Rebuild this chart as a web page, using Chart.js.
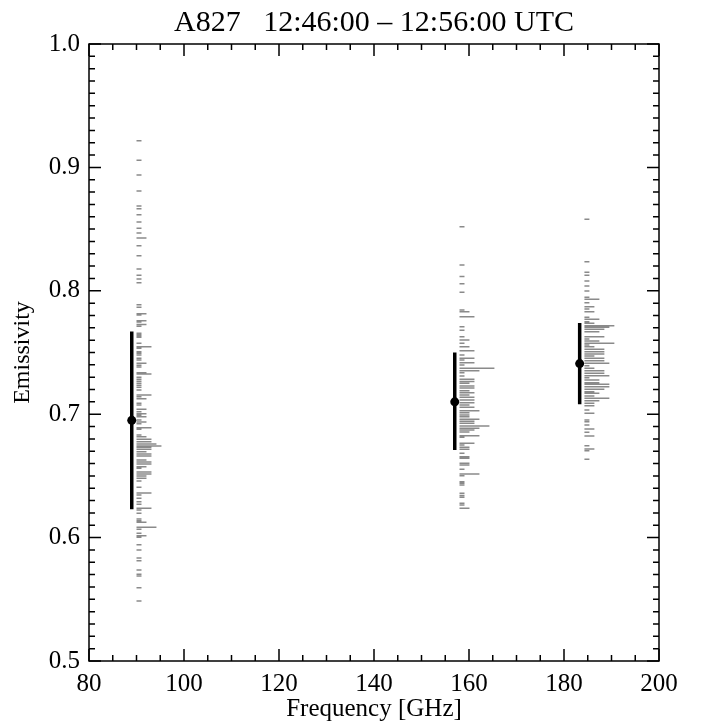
<!DOCTYPE html>
<html>
<head>
<meta charset="utf-8">
<script src="https://cdn.jsdelivr.net/npm/chart.js@4/dist/chart.umd.min.js"></script>
<style>
  body { margin: 0; background: #fff; }
  #wrap { width: 702px; height: 724px; }
</style>
</head>
<body>
<div id="wrap"><canvas id="emis" width="702" height="724"></canvas></div>
<script>
// channel frequencies [GHz], mean emissivity and error bar ends
const freqs = [89, 157, 183.3];
const means = [0.695, 0.710, 0.741];
const errLow = [0.623, 0.671, 0.708];
const errHigh = [0.767, 0.750, 0.774];

// histogram bins (emissivity) and counts for each channel
const bins89 = [0.9216, 0.9058, 0.8938, 0.8809, 0.8687, 0.8665, 0.8617, 0.8558, 0.8506, 0.8468,
  0.8428, 0.8365, 0.8284, 0.8177, 0.8126, 0.8096, 0.8066, 0.7887, 0.7866, 0.7815,
  0.7804, 0.7758, 0.7747, 0.7726, 0.7712, 0.7656, 0.7645, 0.7634, 0.7623, 0.7574,
  0.7547, 0.7534, 0.7506, 0.7493, 0.7480, 0.7453, 0.7439, 0.7412, 0.7396, 0.7382,
  0.7336, 0.7326, 0.7299, 0.7283, 0.7267, 0.7250, 0.7234, 0.7218, 0.7196, 0.7156,
  0.7142, 0.7126, 0.7088, 0.7075, 0.7040, 0.7020, 0.7004, 0.6991, 0.6980, 0.6953,
  0.6937, 0.6923, 0.6891, 0.6878, 0.6831, 0.6818, 0.6797, 0.6777, 0.6758, 0.6742,
  0.6732, 0.6716, 0.6696, 0.6677, 0.6661, 0.6629, 0.6613, 0.6596, 0.6575, 0.6562,
  0.6532, 0.6515, 0.6499, 0.6480, 0.6459, 0.6408, 0.6361, 0.6345, 0.6318, 0.6291,
  0.6270, 0.6237, 0.6224, 0.6197, 0.6151, 0.6137, 0.6124, 0.6083, 0.6067, 0.6035,
  0.6015, 0.6003, 0.5942, 0.5900, 0.5835, 0.5813, 0.5737, 0.5702, 0.5689, 0.5594,
  0.5486];
const counts89 = [1, 1, 1, 1, 1, 1, 1, 1, 1, 1,
  2, 1, 1, 1, 1, 1, 1, 1, 1, 2,
  1, 2, 1, 2, 1, 1, 1, 1, 1, 1,
  3, 1, 1, 1, 1, 1, 1, 2, 1, 1,
  2, 3, 1, 1, 1, 1, 1, 1, 1, 3,
  1, 2, 1, 1, 2, 1, 2, 1, 2, 1,
  2, 1, 3, 1, 1, 2, 3, 3, 4, 5,
  3, 3, 2, 3, 3, 2, 3, 3, 2, 1,
  3, 3, 2, 2, 1, 1, 3, 1, 1, 1,
  1, 3, 1, 1, 1, 1, 2, 4, 1, 1,
  2, 1, 1, 1, 1, 1, 1, 1, 1, 1,
  1];

const bins157 = [0.8520, 0.8209, 0.8115, 0.8058, 0.7988, 0.7844, 0.7831, 0.7790, 0.7709, 0.7680,
  0.7628, 0.7601, 0.7574, 0.7547, 0.7515, 0.7480, 0.7453, 0.7439, 0.7417, 0.7399,
  0.7372, 0.7353, 0.7336, 0.7310, 0.7283, 0.7264, 0.7250, 0.7229, 0.7212, 0.7190,
  0.7174, 0.7156, 0.7137, 0.7115, 0.7093, 0.7075, 0.7056, 0.7028, 0.7012, 0.6993,
  0.6980, 0.6959, 0.6942, 0.6926, 0.6904, 0.6886, 0.6872, 0.6856, 0.6826, 0.6813,
  0.6764, 0.6750, 0.6732, 0.6716, 0.6683, 0.6656, 0.6643, 0.6602, 0.6588, 0.6553,
  0.6515, 0.6502, 0.6453, 0.6440, 0.6426, 0.6359, 0.6342, 0.6326, 0.6278, 0.6264,
  0.6237];
const counts157 = [1, 1, 1, 1, 1, 1, 2, 3, 1, 1,
  1, 2, 1, 2, 3, 1, 3, 1, 3, 1,
  7, 4, 1, 1, 3, 3, 2, 3, 3, 2,
  3, 2, 3, 3, 3, 2, 3, 4, 2, 2,
  2, 4, 3, 3, 6, 4, 3, 2, 4, 1,
  3, 1, 2, 2, 1, 2, 2, 2, 2, 1,
  4, 1, 1, 1, 1, 1, 1, 1, 1, 1,
  2];

const bins183 = [0.8579, 0.8236, 0.8150, 0.8126, 0.8079, 0.8039, 0.7998, 0.7947, 0.7931, 0.7903,
  0.7871, 0.7852, 0.7831, 0.7785, 0.7769, 0.7750, 0.7737, 0.7717, 0.7704, 0.7688,
  0.7669, 0.7628, 0.7609, 0.7593, 0.7574, 0.7561, 0.7547, 0.7526, 0.7506, 0.7488,
  0.7472, 0.7453, 0.7434, 0.7412, 0.7393, 0.7372, 0.7353, 0.7331, 0.7312, 0.7296,
  0.7277, 0.7255, 0.7242, 0.7223, 0.7202, 0.7182, 0.7169, 0.7147, 0.7129, 0.7109,
  0.7088, 0.7069, 0.7034, 0.7007, 0.6953, 0.6939, 0.6912, 0.6880, 0.6853, 0.6823,
  0.6745, 0.6718, 0.6704, 0.6634];
const counts183 = [1, 1, 1, 1, 1, 1, 1, 1, 3, 1,
  2, 1, 2, 1, 3, 1, 2, 6, 5, 4,
  3, 4, 1, 3, 6, 1, 2, 4, 4, 4,
  2, 4, 4, 5, 1, 2, 4, 4, 5, 1,
  3, 3, 5, 5, 4, 2, 3, 2, 5, 3,
  2, 2, 1, 2, 1, 1, 1, 2, 1, 2,
  1, 2, 1, 1];

const xTicks = [80, 100, 120, 140, 160, 180, 200];
const yTicks = [0.5, 0.6, 0.7, 0.8, 0.9, 1.0];

const SERIF = "'Liberation Serif', 'DejaVu Serif', serif";

// each bin is a horizontal stroke starting 1 GHz right of the channel
function histLine(freq, bins, counts) {
  const pts = [];
  bins.forEach((b, i) => {
    pts.push({x: freq + 1, y: b});
    pts.push({x: freq + 1 + counts[i] * 1.05, y: b});
    pts.push({x: freq + 1, y: null});
  });
  return pts;
}

const errPts = [];
freqs.forEach((f, i) => {
  errPts.push({x: f, y: errLow[i]}, {x: f, y: errHigh[i]}, {x: f, y: null});
});

// box around plot plus inward major/minor ticks
const boxTicks = {
  id: 'boxTicks',
  afterDatasetsDraw(chart) {
    const {ctx, chartArea: a, scales: {x, y}} = chart;
    ctx.save();
    ctx.strokeStyle = '#000';
    ctx.lineWidth = 1.5;
    ctx.strokeRect(a.left, a.top, a.right - a.left, a.bottom - a.top);
    ctx.beginPath();
    for (let v = 80; v <= 200; v += 5) {
      const px = x.getPixelForValue(v);
      const len = v % 20 === 0 ? 12 : 6;
      ctx.moveTo(px, a.bottom); ctx.lineTo(px, a.bottom - len);
      ctx.moveTo(px, a.top); ctx.lineTo(px, a.top + len);
    }
    for (let i = 0; i <= 50; i++) {
      const py = y.getPixelForValue(0.5 + i * 0.01);
      const len = i % 10 === 0 ? 12 : 6;
      ctx.moveTo(a.left, py); ctx.lineTo(a.left + len, py);
      ctx.moveTo(a.right, py); ctx.lineTo(a.right - len, py);
    }
    ctx.stroke();
    ctx.restore();
  },
  afterDraw(chart) {
    const {ctx, chartArea: a} = chart;
    ctx.save();
    ctx.fillStyle = '#000';
    ctx.font = '30px ' + SERIF;
    ctx.textAlign = 'center';
    ctx.textBaseline = 'alphabetic';
    ctx.fillText('A827   12:46:00 \u2013 12:56:00 UTC', (a.left + a.right) / 2, 31);
    ctx.restore();
  }
};

new Chart(document.getElementById('emis').getContext('2d'), {
  type: 'scatter',
  data: {
    datasets: [
      {
        data: freqs.map((f, i) => ({x: f, y: means[i]})),
        pointRadius: 4.5,
        pointBackgroundColor: '#000',
        pointBorderWidth: 0
      },
      {
        data: errPts,
        showLine: true,
        spanGaps: false,
        borderColor: '#000',
        borderWidth: 3.5,
        pointRadius: 0
      },
      {
        data: histLine(freqs[0], bins89, counts89),
        showLine: true, spanGaps: false, borderColor: '#8a8a8a', borderWidth: 1.5, pointRadius: 0
      },
      {
        data: histLine(freqs[1], bins157, counts157),
        showLine: true, spanGaps: false, borderColor: '#8a8a8a', borderWidth: 1.5, pointRadius: 0
      },
      {
        data: histLine(freqs[2], bins183, counts183),
        showLine: true, spanGaps: false, borderColor: '#8a8a8a', borderWidth: 1.5, pointRadius: 0
      }
    ]
  },
  options: {
    responsive: false,
    animation: false,
    layout: { padding: { top: 44, right: 43, bottom: 0, left: 0 } },
    plugins: { legend: { display: false }, tooltip: { enabled: false } },
    scales: {
      x: {
        type: 'linear', min: 80, max: 200,
        afterFit: s => { s.height = 63; },
        afterBuildTicks: s => { s.ticks = xTicks.map(v => ({value: v})); },
        grid: { display: false, drawTicks: false },
        border: { display: false },
        ticks: { color: '#000', padding: 8, maxRotation: 0, font: { family: SERIF, size: 25 } },
        title: { display: true, text: 'Frequency [GHz]', color: '#000', padding: { top: 0, bottom: 0 }, font: { family: SERIF, size: 25 } }
      },
      y: {
        type: 'linear', min: 0.5, max: 1.0,
        afterFit: s => { s.width = 89; },
        afterBuildTicks: s => { s.ticks = yTicks.map(v => ({value: v})); },
        grid: { display: false, drawTicks: false },
        border: { display: false },
        ticks: { color: '#000', padding: 9, font: { family: SERIF, size: 25 }, callback: v => v.toFixed(1) },
        title: { display: true, text: 'Emissivity', color: '#000', padding: { top: 8, bottom: 0 }, font: { family: SERIF, size: 24 } }
      }
    }
  },
  plugins: [boxTicks]
});
</script>
</body>
</html>
